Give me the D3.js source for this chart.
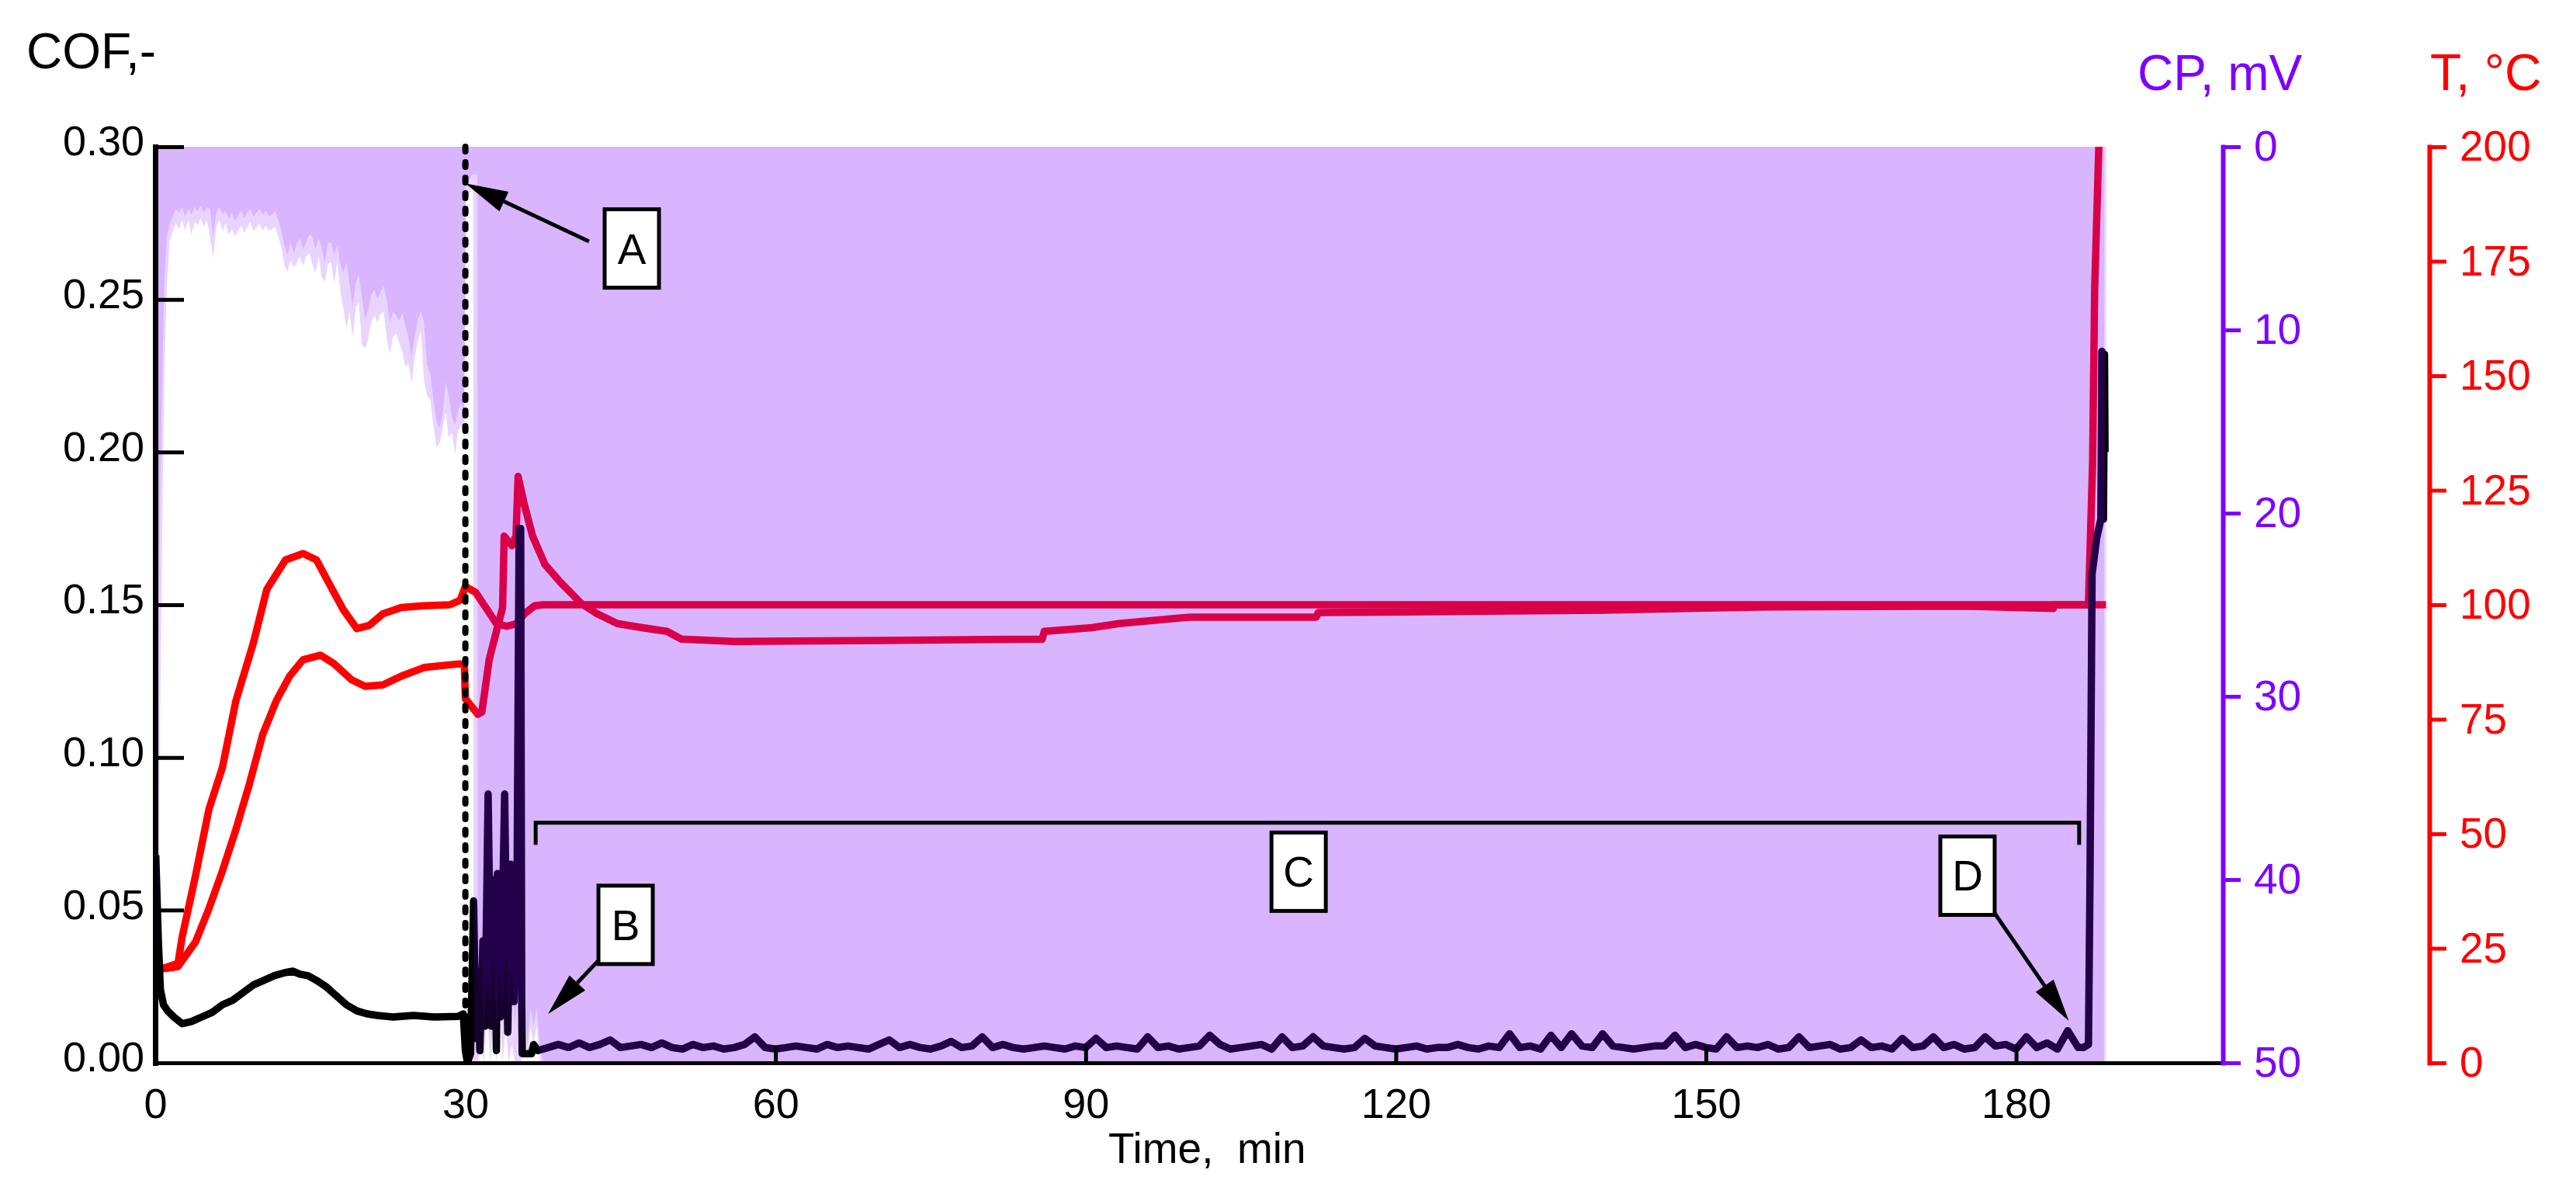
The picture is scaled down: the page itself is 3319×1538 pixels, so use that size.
<!DOCTYPE html>
<html>
<head>
<meta charset="utf-8">
<script src="https://cdn.jsdelivr.net/npm/d3@7"></script>
<style>
body { margin: 0; background: #fff; }
text { font-family: "Liberation Sans", Arial, sans-serif; }
</style>
</head>
<body>
<script>
// ticks
var timeTicks = [0, 30, 60, 90, 120, 150, 180];
var cofTicks = [0, 0.05, 0.10, 0.15, 0.20, 0.25, 0.30];
var cpTicks = [0, 10, 20, 30, 40, 50];
var tempTicks = [0, 25, 50, 75, 100, 125, 150, 175, 200];

// COF [time min, COF]
var cofStart = [
  [0.05, 0.068], [0.3, 0.040], [0.5, 0.024], [0.8, 0.019], [1.2, 0.017], [1.8, 0.015],
  [2.6, 0.0128], [3.5, 0.0135], [4.5, 0.015], [5.5, 0.0165], [6.5, 0.019], [7.5, 0.0205],
  [8.5, 0.023], [9.5, 0.0255], [10.5, 0.027], [11.5, 0.0285], [12.5, 0.0295], [13.3, 0.030],
  [14.0, 0.029], [14.8, 0.0285], [15.6, 0.027], [16.5, 0.025], [17.5, 0.022], [18.5, 0.019],
  [19.5, 0.017], [20.5, 0.016], [21.5, 0.0155], [23, 0.015], [25, 0.0155], [27, 0.015],
  [29.3, 0.0152], [29.8, 0.016], [30.0, 0.004], [30.2, 0.0], [30.5, 0.003], [30.8, 0.053],
  [31.0, 0.008], [31.2, 0.030], [31.4, 0.004], [31.7, 0.040], [31.9, 0.012], [32.2, 0.088],
  [32.5, 0.012], [32.8, 0.060], [33.0, 0.004], [33.1, 0.062], [33.4, 0.015], [33.8, 0.088],
  [34.1, 0.010], [34.4, 0.065], [34.7, 0.020], [35.0, 0.060], [35.2, 0.175], [35.35, 0.175],
  [35.45, 0.02], [35.5, 0.003], [36.4, 0.003], [36.6, 0.006]
];
// COF every minute from 37 to 186
var cofSteady = [
  0.004, 0.005, 0.006, 0.005, 0.0065, 0.005, 0.006, 0.0075, 0.005, 0.0055,
  0.006, 0.005, 0.0065, 0.005, 0.0045, 0.006, 0.005, 0.0055, 0.0045, 0.005,
  0.006, 0.0085, 0.005, 0.0045, 0.005, 0.0055, 0.005, 0.0045, 0.006, 0.005,
  0.0055, 0.005, 0.0045, 0.006, 0.0075, 0.005, 0.006, 0.005, 0.0045, 0.0055,
  0.007, 0.005, 0.0055, 0.0085, 0.005, 0.006, 0.005, 0.0045, 0.005, 0.0055,
  0.005, 0.0045, 0.0055, 0.005, 0.008, 0.005, 0.0055, 0.005, 0.0045, 0.0085,
  0.005, 0.0055, 0.0045, 0.005, 0.0055, 0.009, 0.006, 0.0045, 0.005, 0.0055,
  0.006, 0.0045, 0.0085, 0.005, 0.0055, 0.0085, 0.0055, 0.005, 0.0045, 0.005,
  0.008, 0.0055, 0.005, 0.0045, 0.005, 0.0055, 0.0045, 0.005, 0.005, 0.006,
  0.005, 0.0045, 0.0055, 0.005, 0.0095, 0.005, 0.0055, 0.0045, 0.009, 0.005,
  0.0095, 0.0055, 0.005, 0.0095, 0.0055, 0.005, 0.0045, 0.005, 0.0055, 0.0055,
  0.009, 0.005, 0.006, 0.005, 0.0045, 0.0085, 0.005, 0.0055, 0.005, 0.006,
  0.0045, 0.005, 0.0085, 0.005, 0.0055, 0.006, 0.0045, 0.005, 0.0075, 0.005,
  0.0055, 0.0045, 0.008, 0.005, 0.0055, 0.0085, 0.005, 0.006, 0.0045, 0.005,
  0.0085, 0.0055, 0.006, 0.0045, 0.0085, 0.005, 0.0065, 0.0045, 0.0105, 0.005
];
var cofEnd = [
  [186.5, 0.005], [187.0, 0.006], [187.15, 0.06], [187.35, 0.16], [187.8, 0.172],
  [188.2, 0.178], [188.3, 0.233], [188.45, 0.178], [188.55, 0.232], [188.6, 0.2]
];

// temperature [time min, deg C]
var tempUpper = [
  [0.05, 20.5], [1.0, 20.8], [2.2, 21.7], [2.6, 27.4], [3.9, 40.9], [5.2, 55.4], [6.5, 64.5],
  [7.8, 79], [9.5, 91.7], [10.8, 103.4], [12.6, 109.8], [14.3, 111.2], [15.6, 109.8],
  [16.9, 104.3], [18.2, 98.9], [19.5, 94.8], [20.7, 95.5], [22.0, 98], [23.8, 99.4],
  [26.0, 99.8], [28.5, 100], [29.5, 101], [30.0, 104], [31.0, 102.7], [32.0, 99.3],
  [33.0, 95.9], [34.0, 95.3], [35.0, 95.9], [35.7, 98], [36.7, 99.8], [37.5, 100],
  [187.0, 100], [187.4, 131], [187.6, 169], [188.0, 200], [188.3, 240]
];
var tempLower = [
  [0.05, 20.5], [1.0, 20.6], [2.2, 21], [3.9, 26.4], [5.2, 33.7], [6.5, 41.9], [7.8, 50.9],
  [9.1, 60.8], [10.4, 71.7], [11.7, 79], [13.0, 84.4], [14.3, 88], [16.0, 89], [17.3, 87.1],
  [19.0, 83.6], [20.3, 82.2], [22.0, 82.5], [23.8, 84.4], [26.0, 86.3], [29.4, 87.1],
  [29.9, 87], [30.0, 79.5], [31.2, 76.1], [31.6, 76.6], [32.3, 88], [33.0, 94.2],
  [33.6, 99.3], [33.75, 115], [34.5, 112.9], [34.9, 115], [35.1, 128], [35.7, 121.9],
  [36.5, 115], [37.7, 108.8], [39.2, 104.9], [41.2, 100.3], [42.7, 98.1], [44.7, 95.9],
  [47.1, 95], [49.5, 94.2], [50.9, 92.5], [56, 92], [70, 92.2], [85.8, 92.5], [86, 94.2],
  [90.6, 95], [93.2, 95.9], [100.1, 97.3], [112.3, 97.3], [112.5, 98.3], [125, 98.5],
  [140, 98.8], [148, 99.2], [155, 99.5], [165, 99.6], [175, 99.7], [183.6, 99.2],
  [183.7, 100], [188.7, 100]
];

// contact potential [time min, main level mV, noise edge mV]
var cpData = [
  [0.0, 50, 50], [0.15, 40, 48], [0.3, 28, 46], [0.5, 18, 30], [0.7, 12, 20], [0.9, 7, 12],
  [1.1, 5, 8], [1.4, 4.2, 5.2], [1.7, 3.8, 4.6], [2.0, 3.4, 4.2], [2.3, 3.6, 4.5],
  [2.6, 3.3, 4.0], [2.9, 3.8, 4.6], [3.2, 3.4, 4.0], [3.5, 3.7, 4.8], [3.8, 3.3, 4.1],
  [4.1, 3.5, 4.3], [4.4, 3.2, 3.9], [4.7, 3.6, 4.4], [5.0, 3.3, 4.0], [5.3, 3.4, 4.9],
  [5.6, 4.9, 6.1], [5.9, 3.6, 4.4], [6.2, 3.3, 4.0], [6.5, 3.7, 4.6], [6.8, 3.5, 4.2],
  [7.1, 3.9, 4.8], [7.4, 3.6, 4.5], [7.7, 4.0, 4.9], [8.0, 3.8, 4.6], [8.3, 3.5, 4.3],
  [8.6, 3.9, 4.7], [8.9, 3.6, 4.4], [9.2, 3.4, 4.1], [9.5, 3.8, 4.6], [9.8, 3.6, 4.4],
  [10.1, 3.4, 4.2], [10.4, 3.7, 4.6], [10.7, 3.5, 4.3], [11.0, 3.8, 4.6], [11.3, 3.7, 4.5],
  [11.6, 3.5, 4.4], [11.9, 4.0, 4.9], [12.2, 4.6, 5.5], [12.5, 5.4, 6.5], [12.8, 5.9, 6.8],
  [13.1, 5.2, 6.2], [13.4, 5.8, 6.6], [13.7, 5.3, 6.3], [14.0, 5.0, 6.0], [14.3, 5.6, 6.5],
  [14.6, 5.2, 6.0], [14.9, 4.8, 5.8], [15.2, 4.9, 6.4], [15.5, 5.6, 6.9], [15.8, 5.0, 6.0],
  [16.1, 5.5, 7.1], [16.4, 6.3, 7.4], [16.7, 5.3, 6.4], [17.0, 5.2, 6.3], [17.3, 5.9, 7.5],
  [17.6, 5.4, 6.3], [17.9, 6.4, 7.9], [18.2, 6.9, 8.8], [18.5, 6.3, 9.9], [18.8, 7.5, 9.0],
  [19.1, 8.7, 10.4], [19.4, 7.4, 8.8], [19.7, 7.0, 8.5], [20.0, 8.2, 10.8], [20.3, 9.4, 11.0],
  [20.6, 8.9, 10.5], [20.9, 8.1, 9.6], [21.2, 7.8, 9.2], [21.5, 8.3, 9.6], [21.8, 7.9, 9.1],
  [22.1, 7.6, 9.0], [22.4, 8.4, 10.5], [22.7, 9.6, 11.3], [23.0, 9.0, 10.4], [23.3, 9.2, 10.2],
  [23.6, 9.5, 10.7], [23.9, 9.1, 11.2], [24.2, 9.8, 12.0], [24.5, 10.4, 11.8], [24.8, 11.5, 12.9],
  [25.1, 10.3, 11.5], [25.4, 9.4, 10.6], [25.7, 9.0, 10.1], [26.0, 9.6, 12.8], [26.3, 11.9, 13.6],
  [26.6, 12.4, 13.8], [26.9, 13.8, 15.2], [27.2, 14.9, 16.4], [27.5, 15.4, 16.2], [27.8, 14.6, 15.4],
  [28.1, 12.8, 14.5], [28.4, 13.6, 15.9], [28.7, 14.8, 15.6], [29.0, 15.2, 16.8], [29.3, 14.4, 15.5],
  [29.6, 14.0, 15.2], [29.9, 14.6, 16.0], [30.05, 2.0, 3.0], [30.75, 1.5, 2.0], [30.8, 1.5, 50],
  [31.15, 1.5, 50], [31.2, 46, 50], [31.5, 44, 49], [31.8, 48, 50], [32.1, 45, 47], [32.4, 47, 50],
  [32.7, 44, 48], [33.0, 48, 50], [33.3, 45, 47], [33.6, 47, 50], [33.9, 44, 48], [34.2, 47, 50],
  [34.5, 45, 49], [34.8, 48, 50], [35.1, 46, 50], [35.4, 48, 50], [35.7, 46, 48], [36.0, 49, 50],
  [36.3, 47, 48], [36.6, 48, 49], [36.9, 47, 48], [37.2, 49, 50], [37.5, 50, 50],
  [188.5, 50, 50], [188.52, 0, 50], [188.7, 0, 50], [188.72, 0, 0]
];

// labels [text, time, COF]
var boxLabels = [["A", 46.1, 0.2668], ["B", 45.5, 0.0453], ["C", 110.6, 0.0627], ["D", 175.3, 0.0614]];
var arrows = [
  [[41.96, 0.269], [30.0, 0.288]],
  [[42.9, 0.0336], [38.0, 0.016]],
  [[177.6, 0.0506], [185.1, 0.0137]]
];
var bracket = {from: 36.8, to: 186.1, level: 0.0786, foot: 0.0714};

var cofData = cofStart
  .concat(cofSteady.map(function (v, i) { return [37 + i, v]; }))
  .concat(cofEnd);

var W = 3319, H = 1538;
var purple = "#7f00ff", red = "#ff0000";

var x = d3.scaleLinear().domain([0, 200]).range([200, 2864]);
var yCof = d3.scaleLinear().domain([0, 0.3]).range([1369, 189]);
var yCp = d3.scaleLinear().domain([0, 50]).range([189, 1369]);
var yT = d3.scaleLinear().domain([0, 200]).range([1369, 189]);

var svg = d3.select("body").append("svg")
  .attr("width", W)
  .attr("height", H);

svg.append("defs").append("clipPath")
  .attr("id", "plot")
  .append("rect")
  .attr("x", x(0))
  .attr("y", yCof(0.3))
  .attr("width", x(200) - x(0))
  .attr("height", yCof(0) - yCof(0.3));

var plot = svg.append("g").attr("clip-path", "url(#plot)");

// lines sit under the CP fill
var tLine = d3.line()
  .x(function (d) { return x(d[0]); })
  .y(function (d) { return yT(d[1]); });
var cofLine = d3.line()
  .x(function (d) { return x(d[0]); })
  .y(function (d) { return yCof(d[1]); });

[tempUpper, tempLower].forEach(function (s) {
  plot.append("path")
    .datum(s)
    .attr("d", tLine)
    .attr("fill", "none")
    .attr("stroke", red)
    .attr("stroke-width", 9.5)
    .attr("stroke-linejoin", "round");
});
plot.append("path")
  .datum(cofData)
  .attr("d", cofLine)
  .attr("fill", "none")
  .attr("stroke", "#000")
  .attr("stroke-width", 9.5)
  .attr("stroke-linejoin", "round");

// CP fill, from 0 mV at the top down to the signal
var cpEdge = d3.area()
  .x(function (d) { return x(d[0]); })
  .y0(yCp(0))
  .y1(function (d) { return yCp(d[2]); });
var cpMain = d3.area()
  .x(function (d) { return x(d[0]); })
  .y0(yCp(0))
  .y1(function (d) { return yCp(d[1]); });

plot.append("path")
  .datum(cpData)
  .attr("d", cpEdge)
  .attr("fill", purple)
  .attr("fill-opacity", 0.17);
plot.append("path")
  .datum(cpData)
  .attr("d", cpMain)
  .attr("fill", purple)
  .attr("fill-opacity", 0.145);

// dotted line at 30 min
svg.append("line")
  .attr("x1", x(30)).attr("x2", x(30))
  .attr("y1", yCof(0.3)).attr("y2", yCof(0))
  .attr("stroke", "#000")
  .attr("stroke-width", 8)
  .attr("stroke-dasharray", "6,14")
  .attr("stroke-linecap", "round");

// bracket C
svg.append("path")
  .attr("d", "M" + x(bracket.from) + "," + yCof(bracket.foot) +
    "V" + yCof(bracket.level) + "H" + x(bracket.to) + "V" + yCof(bracket.foot))
  .attr("fill", "none")
  .attr("stroke", "#000")
  .attr("stroke-width", 5);

// arrows
arrows.forEach(function (a) {
  var x0 = x(a[0][0]), y0 = yCof(a[0][1]), x1 = x(a[1][0]), y1 = yCof(a[1][1]);
  var dx = x1 - x0, dy = y1 - y0, len = Math.sqrt(dx * dx + dy * dy);
  var ux = dx / len, uy = dy / len, hl = 55, hw = 14;
  var bx = x1 - ux * hl, by = y1 - uy * hl;
  svg.append("line")
    .attr("x1", x0).attr("y1", y0)
    .attr("x2", bx).attr("y2", by)
    .attr("stroke", "#000")
    .attr("stroke-width", 5);
  svg.append("path")
    .attr("d", "M" + x1 + "," + y1 +
      "L" + (bx - uy * hw) + "," + (by + ux * hw) +
      "L" + (bx + uy * hw) + "," + (by - ux * hw) + "Z")
    .attr("fill", "#000");
});

// letter boxes
var boxes = svg.append("g").selectAll("g")
  .data(boxLabels)
  .enter().append("g")
  .attr("transform", function (d) { return "translate(" + x(d[1]) + "," + yCof(d[2]) + ")"; });
boxes.append("rect")
  .attr("x", -35).attr("y", -50)
  .attr("width", 70).attr("height", 101)
  .attr("fill", "#fff")
  .attr("stroke", "#000")
  .attr("stroke-width", 5);
boxes.append("text")
  .text(function (d) { return d[0]; })
  .attr("text-anchor", "middle")
  .attr("y", 20)
  .attr("font-size", 55);

// axes
function styleAxis(g, color, width, size) {
  g.attr("font-family", null).attr("font-size", null);
  g.select(".domain").attr("stroke", color).attr("stroke-width", width).attr("stroke-linecap", "square");
  g.selectAll(".tick line").attr("stroke", color).attr("stroke-width", 5);
  g.selectAll(".tick text").attr("fill", color).attr("font-size", size);
}

svg.append("g")
  .attr("transform", "translate(0," + yCof(0) + ")")
  .call(d3.axisBottom(x).tickValues(timeTicks).tickSizeInner(-22).tickSizeOuter(0).tickPadding(33))
  .call(styleAxis, "#000", 5, 54);

svg.append("g")
  .attr("transform", "translate(" + x(0) + ",0)")
  .call(d3.axisLeft(yCof).tickValues(cofTicks).tickFormat(d3.format(".2f"))
    .tickSizeInner(-37).tickSizeOuter(0).tickPadding(14))
  .call(styleAxis, "#000", 7, 54)
  .selectAll(".tick text").attr("dy", "0.2em");

svg.append("g")
  .attr("transform", "translate(" + x(200) + ",0)")
  .call(d3.axisRight(yCp).tickValues(cpTicks).tickSizeInner(23).tickSizeOuter(0).tickPadding(17))
  .call(styleAxis, purple, 6, 55);

svg.append("g")
  .attr("transform", "translate(3130,0)")
  .call(d3.axisRight(yT).tickValues(tempTicks).tickSizeInner(22).tickSizeOuter(0).tickPadding(17))
  .call(styleAxis, red, 6, 55);

// titles
svg.append("text").text("COF,-")
  .attr("x", 34).attr("y", 88)
  .attr("font-size", 64);
svg.append("text").text("CP, mV")
  .attr("x", 2754).attr("y", 116)
  .attr("font-size", 64)
  .attr("fill", purple);
svg.append("text").text("T, °C")
  .attr("x", 3131).attr("y", 116)
  .attr("font-size", 66)
  .attr("fill", red);
svg.append("text").text("Time,  min")
  .attr("x", 1428).attr("y", 1498)
  .attr("font-size", 55)
  .style("white-space", "pre");
</script>
</body>
</html>
